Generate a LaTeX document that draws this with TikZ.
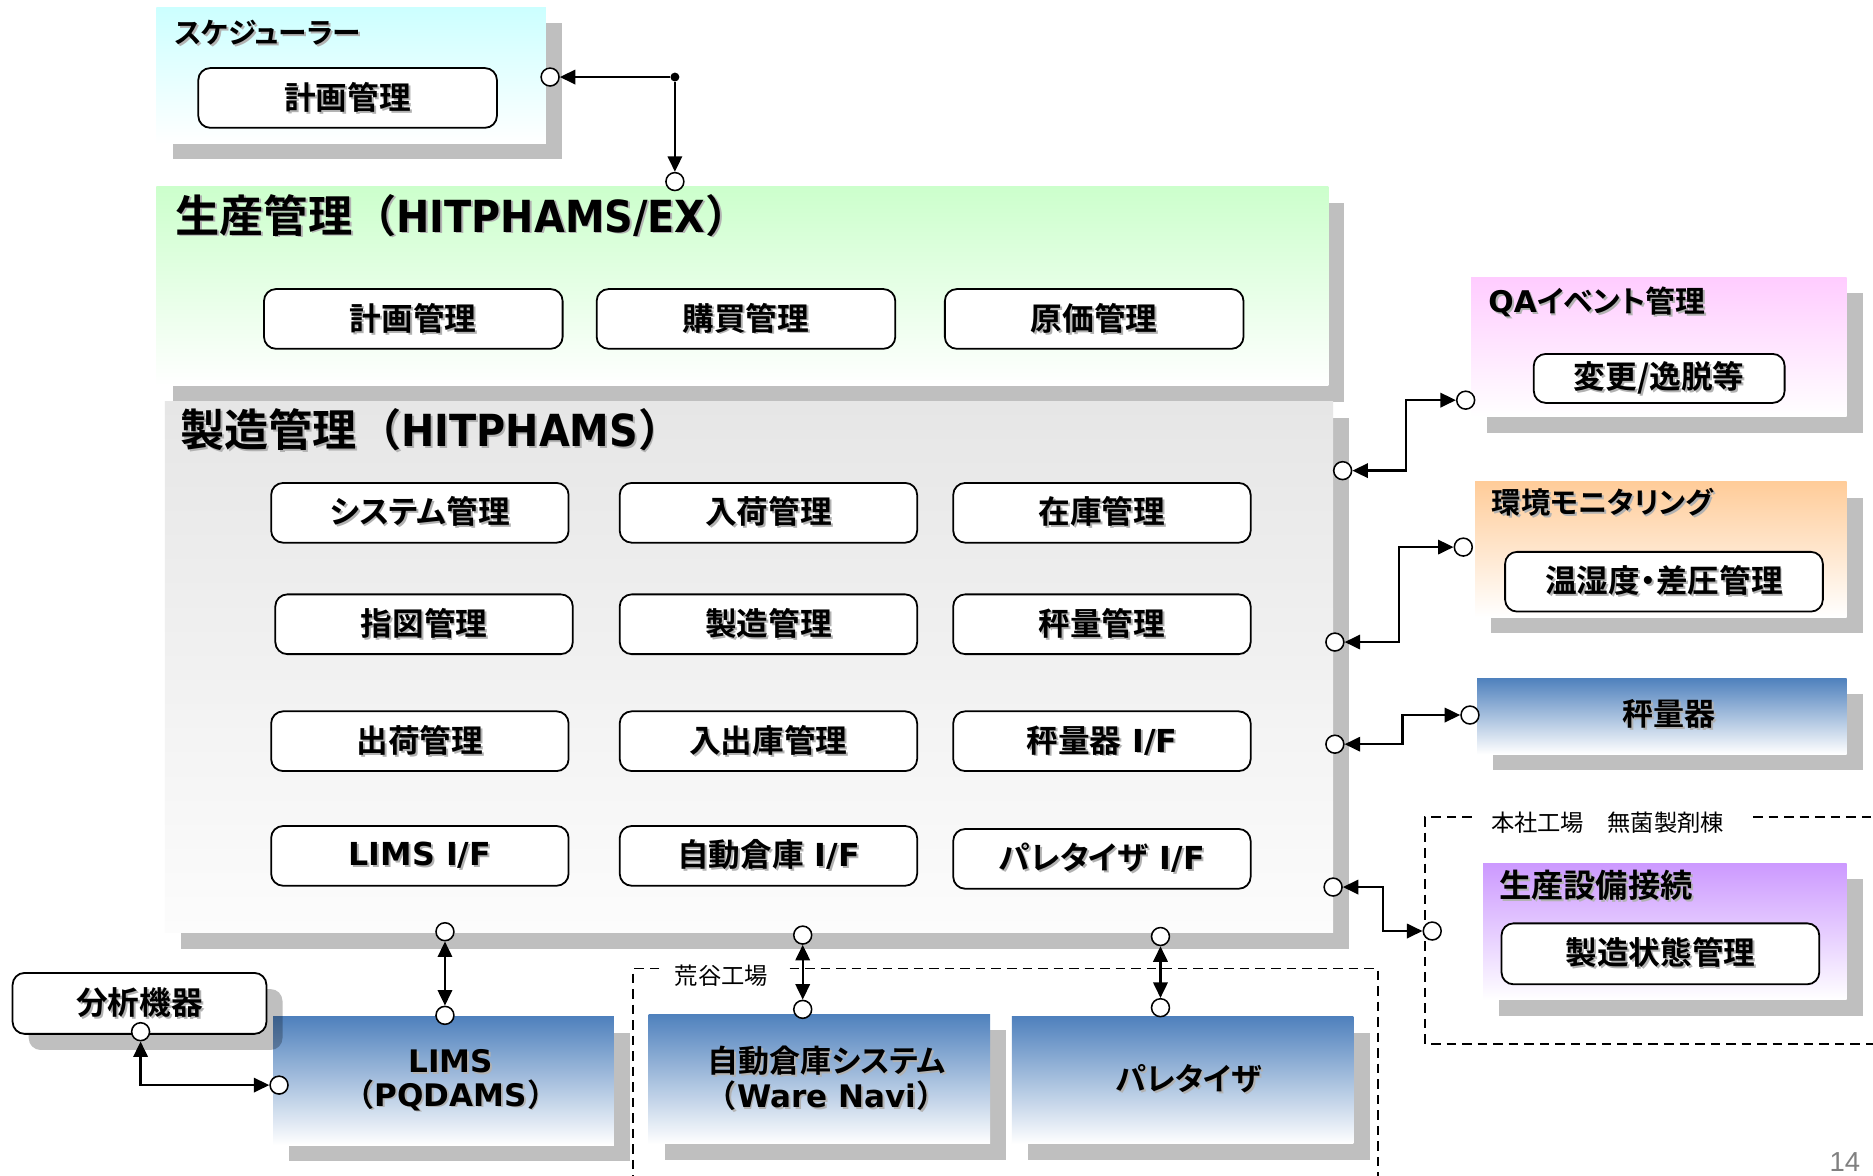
\documentclass[tikz,border=0pt]{standalone}
\usepackage{fontspec}
\setmainfont{DejaVu Sans}
\newfontfamily\jp{Noto Sans CJK JP}[RawFeature=+palt, BoldFont={Noto Sans CJK JP Bold}]
\newfontfamily\jpf{Noto Sans CJK JP}[BoldFont={Noto Sans CJK JP Bold}]
\newfontfamily\latc{DejaVu Sans}[FakeStretch=0.9]
\newfontfamily\pnum{Liberation Sans}
\usetikzlibrary{arrows.meta}

\newcommand\FSz[1]{\fontsize{#1}{#1}\selectfont}
\newcommand\J[1]{{\jp #1}}
\newcommand\Jf[1]{{\jpf #1}}
\newcommand\TS[1]{\makebox[0pt][l]{\hspace*{1.6pt}\raisebox{-1.6pt}{\color{black!30}#1}}#1}

\definecolor{cyanT}{HTML}{CCFFFF}
\definecolor{greenT}{HTML}{CCFFCC}
\definecolor{grayT}{HTML}{E6E6E6}
\definecolor{grayB}{HTML}{FCFCFC}
\definecolor{pinkT}{HTML}{FFCCFF}
\definecolor{orangeT}{HTML}{FFCC99}
\definecolor{purpleT}{HTML}{CC99FF}
\definecolor{blueT}{HTML}{4F81BD}
\definecolor{shadowC}{HTML}{BFBFBF}

\newcommand\BigBox[7]{%
  \fill[shadowC] ({#2+13.5},{#3+13.5}) rectangle ({#4+13.5},{#5+13.5});
  \node[bigbox, top color=#6, bottom color=#7, minimum width={(#4)-(#2)}, minimum height={(#5)-(#3)}] (#1) at (#2,#3) {};
}

\begin{document}
\begin{tikzpicture}[x=1pt,y=-1pt,
  bigbox/.style={rectangle, inner sep=0, outer sep=0, anchor=north west, draw=none},
  ibox/.style={draw, line width=1.5pt, rounded corners=10pt, fill=white, minimum width=249pt, minimum height=50pt, inner sep=0, font=\bfseries\FSz{26.5}},
  ttl/.style={anchor=west, inner sep=0, outer sep=0, font=\bfseries\FSz{25}},
  bigttl/.style={anchor=west, inner sep=0, outer sep=0, font=\bfseries\FSz{37}},
  btxt/.style={inner sep=0, align=center, font=\bfseries\FSz{26}},
  lbl/.style={inner sep=0, font=\jpf\FSz{19.5}},
  region/.style={line width=1.2pt, dash pattern=on 8pt off 5pt},
  port/.style={circle, draw, fill=white, line width=1.3pt, minimum size=15pt, inner sep=0},
  dotnode/.style={circle, fill, minimum size=7.5pt, inner sep=0},
  link/.style={line width=2pt, {Triangle[length=13pt,width=12pt]}-{Triangle[length=13pt,width=12pt]}},
  linkend/.style={line width=2pt, -{Triangle[length=13pt,width=12pt]}}
]
\useasboundingbox (0,0) rectangle (1568,984);
\fill[white] (0,0) rectangle (1568,984);

% big boxes
\BigBox{sched}{131}{6}{457}{120}{cyanT}{white}
\BigBox{prod}{131}{156.5}{1112}{323}{greenT}{white}
\BigBox{mfg}{138}{336.5}{1116}{781}{grayT}{grayB}
\BigBox{qa}{1231.5}{232}{1546}{349}{pinkT}{white}
\BigBox{env}{1235}{403}{1546}{516.6}{orangeT}{white}
\BigBox{scale}{1236.6}{567.8}{1546}{631.4}{blueT}{white}
\BigBox{equip}{1241.5}{722.5}{1546}{837}{purpleT}{white}
\BigBox{lims}{228.7}{851}{514}{958.6}{blueT}{white}
\BigBox{awh}{543}{849}{828.8}{957.7}{blueT}{white}
\BigBox{pal}{847}{851}{1133}{957.7}{blueT}{white}

% dashed regions
\draw[region] (552,811) -- (530,811) -- (530,990);
\draw[region] (661,811) -- (1153.5,811) -- (1153.5,990);
\node[lbl] (arayaL) at (604,817) {荒谷工場};
\draw[region] (1232,684) -- (1193,684) -- (1193,874) -- (1575,874);
\draw[region] (1467.6,684) -- (1575,684);
\node[lbl, anchor=west] (honshaL) at (1248,689) {本社工場　無菌製剤棟};

% analysis instrument
\fill[black, opacity=.25, rounded corners=10pt] (24,828) rectangle (236.5,879);
\node[ibox, minimum width=212.5pt, minimum height=51pt] (bunseki) at (116.8,840) {\TS{\J{分析機器}}};

% titles
\node[ttl, font=\bfseries\FSz{24}] (schedT) at (146,28) {\TS{\J{スケジューラー}}};
\node[bigttl] (prodT) at (147,181) {\TS{\J{生産管理}\Jf{（}{\latc HITPHAMS/EX}\Jf{）}}};
\node[bigttl] (mfgT) at (151,360.6) {\TS{\J{製造管理}\Jf{（}{\latc HITPHAMS}\Jf{）}}};
\node[ttl] (qaT) at (1246,253.5) {\TS{QA\J{イベント管理}}};
\node[ttl, font=\bfseries\FSz{24.5}] (envT) at (1249,421.5) {\TS{\J{環境モニタリング}}};
\node[ttl, font=\bfseries\FSz{27}] (equipT) at (1255,742) {\TS{\J{生産設備接続}}};

% inner boxes
\node[ibox, minimum width=250pt] (schedPlan) at (291,82) {\TS{\J{計画管理}}};
\node[ibox, minimum width=250pt] (pPlan) at (346,267) {\TS{\J{計画管理}}};
\node[ibox, minimum width=250pt] (pBuy) at (624.5,267) {\TS{\J{購買管理}}};
\node[ibox, minimum width=250pt] (pCost) at (916,267) {\TS{\J{原価管理}}};

\node[ibox] (m11) at (351.5,429.3) {\TS{\J{システム管理}}};
\node[ibox] (m12) at (643.3,429.3) {\TS{\J{入荷管理}}};
\node[ibox] (m13) at (922.5,429.3) {\TS{\J{在庫管理}}};
\node[ibox] (m21) at (355,522.6) {\TS{\J{指図管理}}};
\node[ibox] (m22) at (643.3,522.6) {\TS{\J{製造管理}}};
\node[ibox] (m23) at (922.5,522.6) {\TS{\J{秤量管理}}};
\node[ibox] (m31) at (351.5,620.5) {\TS{\J{出荷管理}}};
\node[ibox] (m32) at (643.3,620.5) {\TS{\J{入出庫管理}}};
\node[ibox] (m33) at (922.5,620.5) {\TS{\J{秤量器} I/F}};
\node[ibox] (m41) at (351.5,716.5) {\TS{LIMS I/F}};
\node[ibox] (m42) at (643.3,716.5) {\TS{\J{自動倉庫} I/F}};
\node[ibox] (m43) at (922.5,719) {\TS{\J{パレタイザ} I/F}};

\node[ibox, minimum width=210pt, minimum height=41pt] (qaIn) at (1389,316.8) {\TS{\J{変更/逸脱等}}};
\node[ibox, minimum width=266pt] (envIn) at (1393,487) {\TS{\J{温湿度・差圧管理}}};
\node[ibox, minimum width=266pt, minimum height=51pt] (equipIn) at (1390,798.5) {\TS{\J{製造状態管理}}};

% blue box texts
\node[btxt] (scaleT) at (1397.5,598.5) {\TS{\J{秤量器}}};
\node[btxt] (limsT) at (377.5,905) {\TS{LIMS}\\[2pt]\TS{\Jf{（}PQDAMS\Jf{）}}};
\node[btxt] (awhT) at (692,903.5) {\TS{\J{自動倉庫システム}}\\[2pt]\TS{\Jf{（}Ware Navi\Jf{）}}};
\node[btxt] (palT) at (995.5,903.7) {\TS{\J{パレタイザ}}};

% ports
\node[dotnode] (sDot) at (565,64.5) {};
\node[port] (sP) at (460.5,64.5) {};
\node[port] (gP) at (565,152) {};
\node[port] (mP1) at (1124,394) {};
\node[port] (qaP) at (1227,335) {};
\node[port] (mP2) at (1117.5,537.5) {};
\node[port] (envP) at (1225,458) {};
\node[port] (mP3) at (1117.5,623) {};
\node[port] (scaleP) at (1230.6,598.6) {};
\node[port] (mP4) at (1116,742.6) {};
\node[port] (equipP) at (1199,779.4) {};
\node[port] (mLims) at (372.5,780) {};
\node[port] (limsP) at (372.5,850) {};
\node[port] (mAwh) at (672,782.8) {};
\node[port] (awhP) at (672,845) {};
\node[port] (mPal) at (971.5,784) {};
\node[port] (palP) at (971.5,843.6) {};
\node[port] (bunP) at (117.7,863.7) {};
\node[port] (limsL) at (233.6,908.4) {};

\coordinate (b1) at (1177,0);
\coordinate (b2) at (1171,0);
\coordinate (b3) at (1174,0);
\coordinate (b4) at (1158,0);

% connectors
\draw[linkend] (sDot) -- (sP);
\draw[linkend] (sDot) -- (gP);
\draw[link] (mP1) -- (mP1 -| b1) |- (qaP);
\draw[link] (mP2) -- (mP2 -| b2) |- (envP);
\draw[link] (mP3) -- (mP3 -| b3) |- (scaleP);
\draw[link] (mP4) -- (mP4 -| b4) |- (equipP);
\draw[link] (mLims) -- (limsP);
\draw[link] (mAwh) -- (awhP);
\draw[link] (mPal) -- (palP);
\draw[link] (bunP) |- (limsL);

% page number
\node[inner sep=0, font=\pnum\FSz{23}, text=black!50] (pg) at (1544.5,972.5) {14};
\end{tikzpicture}
\end{document}
